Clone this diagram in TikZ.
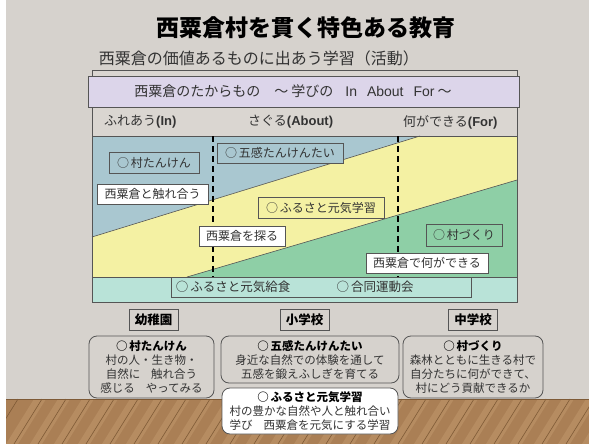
\documentclass[tikz,border=0pt]{standalone}
\usepackage{fontspec}
\setmainfont{Noto Sans CJK JP}
\newfontfamily\latinf{Liberation Sans}
\newcommand{\circm}{○\hspace{2pt}}
\definecolor{wall}{HTML}{D6D2CD}
\definecolor{hdr}{HTML}{DAD6D1}
\definecolor{lav}{HTML}{DCD5EA}
\definecolor{cblue}{HTML}{A9C7D0}
\definecolor{cyel}{HTML}{F4F1A3}
\definecolor{cgreen}{HTML}{8ECFA6}
\definecolor{cteal}{HTML}{B9E3D8}
\definecolor{bd}{HTML}{555555}
\definecolor{txt}{HTML}{333333}
\definecolor{wood}{HTML}{AA7F55}
\definecolor{wooddk}{HTML}{7E5A36}
\definecolor{woodlt}{HTML}{C29A6E}
\begin{document}
\begin{tikzpicture}[x=1pt,y=-1pt,
  lbl/.style={text=txt, inner sep=0pt},
  chbox/.style={draw=bd, line width=0.8pt, text=txt, inner sep=0pt, font=\fontsize{12}{14}\selectfont},
  wbox/.style={chbox, fill=white},
  schbox/.style={draw=bd, line width=0.8pt, fill=wall, text=black, inner sep=0pt, minimum width=49, minimum height=21, font=\bfseries\fontsize{12.5}{14}\selectfont},
  lowbox/.style={draw=bd, line width=0.8pt, rounded corners=8pt, fill=wall, text=txt, inner sep=0pt, align=center, font=\fontsize{11.5}{14}\selectfont},
  plank/.style={wooddk, line width=0.6pt},
  divline/.style={black, line width=1.6pt, dash pattern=on 6pt off 4pt}
]
\useasboundingbox (0,0) rectangle (589,444);
% background
\fill[white] (0,0) rectangle (589,444);
\fill[wall] (6,0) rectangle (589,399);
\fill[wood] (6,399) rectangle (589,444);
\foreach \i in {0,...,25} {
  \fill[woodlt, opacity=0.5] ({6+\i*24},444) -- ({6+\i*24+12},444) -- ({6+\i*24+40},399) -- ({6+\i*24+28},399) -- cycle;
  \draw[plank] ({\i*24-10},444) -- ({\i*24+18},399);
}
\draw[wooddk, line width=1pt] (6,399) -- (589,399);
\fill[white] (0,399) rectangle (6,444);

% titles
\node[lbl, font=\bfseries\fontsize{23}{26}\selectfont, text=black] (title) at (306,28) {西粟倉村を貫く特色ある教育};
\node[lbl, font=\fontsize{16}{18}\selectfont, anchor=east] (sub) at (419,58) {西粟倉の価値あるものに出あう学習（活動）};

% frame
\draw[bd, line width=0.8pt, fill=hdr] (92,70) rectangle (517,302);
% chart regions
\fill[cblue] (92,136) rectangle (517,277);
\fill[cyel] (92,237) -- (420,136) -- (517,136) -- (517,277) -- (92,277) -- cycle;
\fill[cgreen] (187,277) -- (517,180) -- (517,277) -- cycle;
\draw[bd, line width=0.6pt] (92,237) -- (420,136);
\draw[bd, line width=0.6pt] (187,277) -- (517,180);
\fill[cteal] (92,277) rectangle (517,302);
\draw[bd, line width=0.8pt] (92,136) -- (517,136);
\draw[bd, line width=0.8pt] (92,277) -- (517,277);
\draw[bd, line width=0.8pt] (92,70) rectangle (517,302);
\draw[divline] (213,136) -- (213,277);
\draw[divline] (398,136) -- (398,277);

% lavender header
\node[draw=bd, line width=0.8pt, fill=lav, minimum width=431, minimum height=31, inner sep=0pt] (lavbox) at (303.5,91.5) {};
\node[lbl, font=\fontsize{14}{16}\selectfont] (lavtxt) at (293,91) {西粟倉のたからもの\hspace{14pt}～ 学びの\hspace{12pt}{\latinf In\hspace{6pt} About\hspace{6pt} For} ～};

% column headers
\node[lbl, font=\fontsize{13}{15}\selectfont, anchor=west] (hin) at (104,122) {ふれあう{\latinf\bfseries (In)}};
\node[lbl, font=\fontsize{13}{15}\selectfont, anchor=west] (habout) at (248,122) {さぐる{\latinf\bfseries (About)}};
\node[lbl, font=\fontsize{13}{15}\selectfont, anchor=west] (hfor) at (403,122) {何ができる{\latinf\bfseries (For)}};

% chart boxes
\node[chbox, fill=cblue, minimum width=90, minimum height=21] (b1) at (154,162.5) {\circm 村たんけん};
\node[wbox, minimum width=111, minimum height=20] (w1) at (152.5,194) {西粟倉と触れ合う};
\node[chbox, fill=cblue, minimum width=126, minimum height=20] (b2) at (280,153) {\circm 五感たんけんたい};
\node[chbox, fill=cyel, minimum width=126, minimum height=21] (y1) at (321,207.5) {\circm ふるさと元気学習};
\node[wbox, minimum width=86, minimum height=20] (w2) at (242,236) {西粟倉を探る};
\node[chbox, fill=cgreen, minimum width=76, minimum height=22] (g1) at (464,235) {\circm 村づくり};
\node[wbox, minimum width=122, minimum height=20] (w3) at (427,263) {西粟倉で何ができる};

% bottom band
\node[chbox, fill=cteal, minimum width=300, minimum height=20] (band) at (321,287) {};
\node[lbl, font=\fontsize{12.5}{14}\selectfont] (kyu) at (233,287) {\circm ふるさと元気給食};
\node[lbl, font=\fontsize{12.5}{14}\selectfont] (undo) at (375,287) {\circm 合同運動会};

% school labels
\node[schbox] (yochi) at (153.5,319.5) {幼稚園};
\node[schbox] (sho) at (304.5,319.5) {小学校};
\node[schbox] (chu) at (473,319.5) {中学校};

% lower boxes
\node[lowbox, minimum width=125, minimum height=62] (lb1) at (151.5,367) {{\bfseries\color{black}\circm 村たんけん}\\村の人・生き物・\\自然に\hspace{11pt}触れ合う\\感じる\hspace{11pt}やってみる};
\node[lowbox, minimum width=178, minimum height=47] (lb2) at (310,359.5) {{\bfseries\color{black}\circm 五感たんけんたい}\\身近な自然での体験を通して\\五感を鍛えふしぎを育てる};
\node[lowbox, fill=white, minimum width=176, minimum height=46] (lb3) at (310,411) {{\bfseries\color{black}\circm ふるさと元気学習}\\村の豊かな自然や人と触れ合い\\学び\hspace{11pt}西粟倉を元気にする学習};
\node[lowbox, minimum width=140, minimum height=62] (lb4) at (473,367) {{\bfseries\color{black}\circm 村づくり}\\森林とともに生きる村で\\自分たちに何ができて、\\村にどう貢献できるか};
\end{tikzpicture}
\end{document}
